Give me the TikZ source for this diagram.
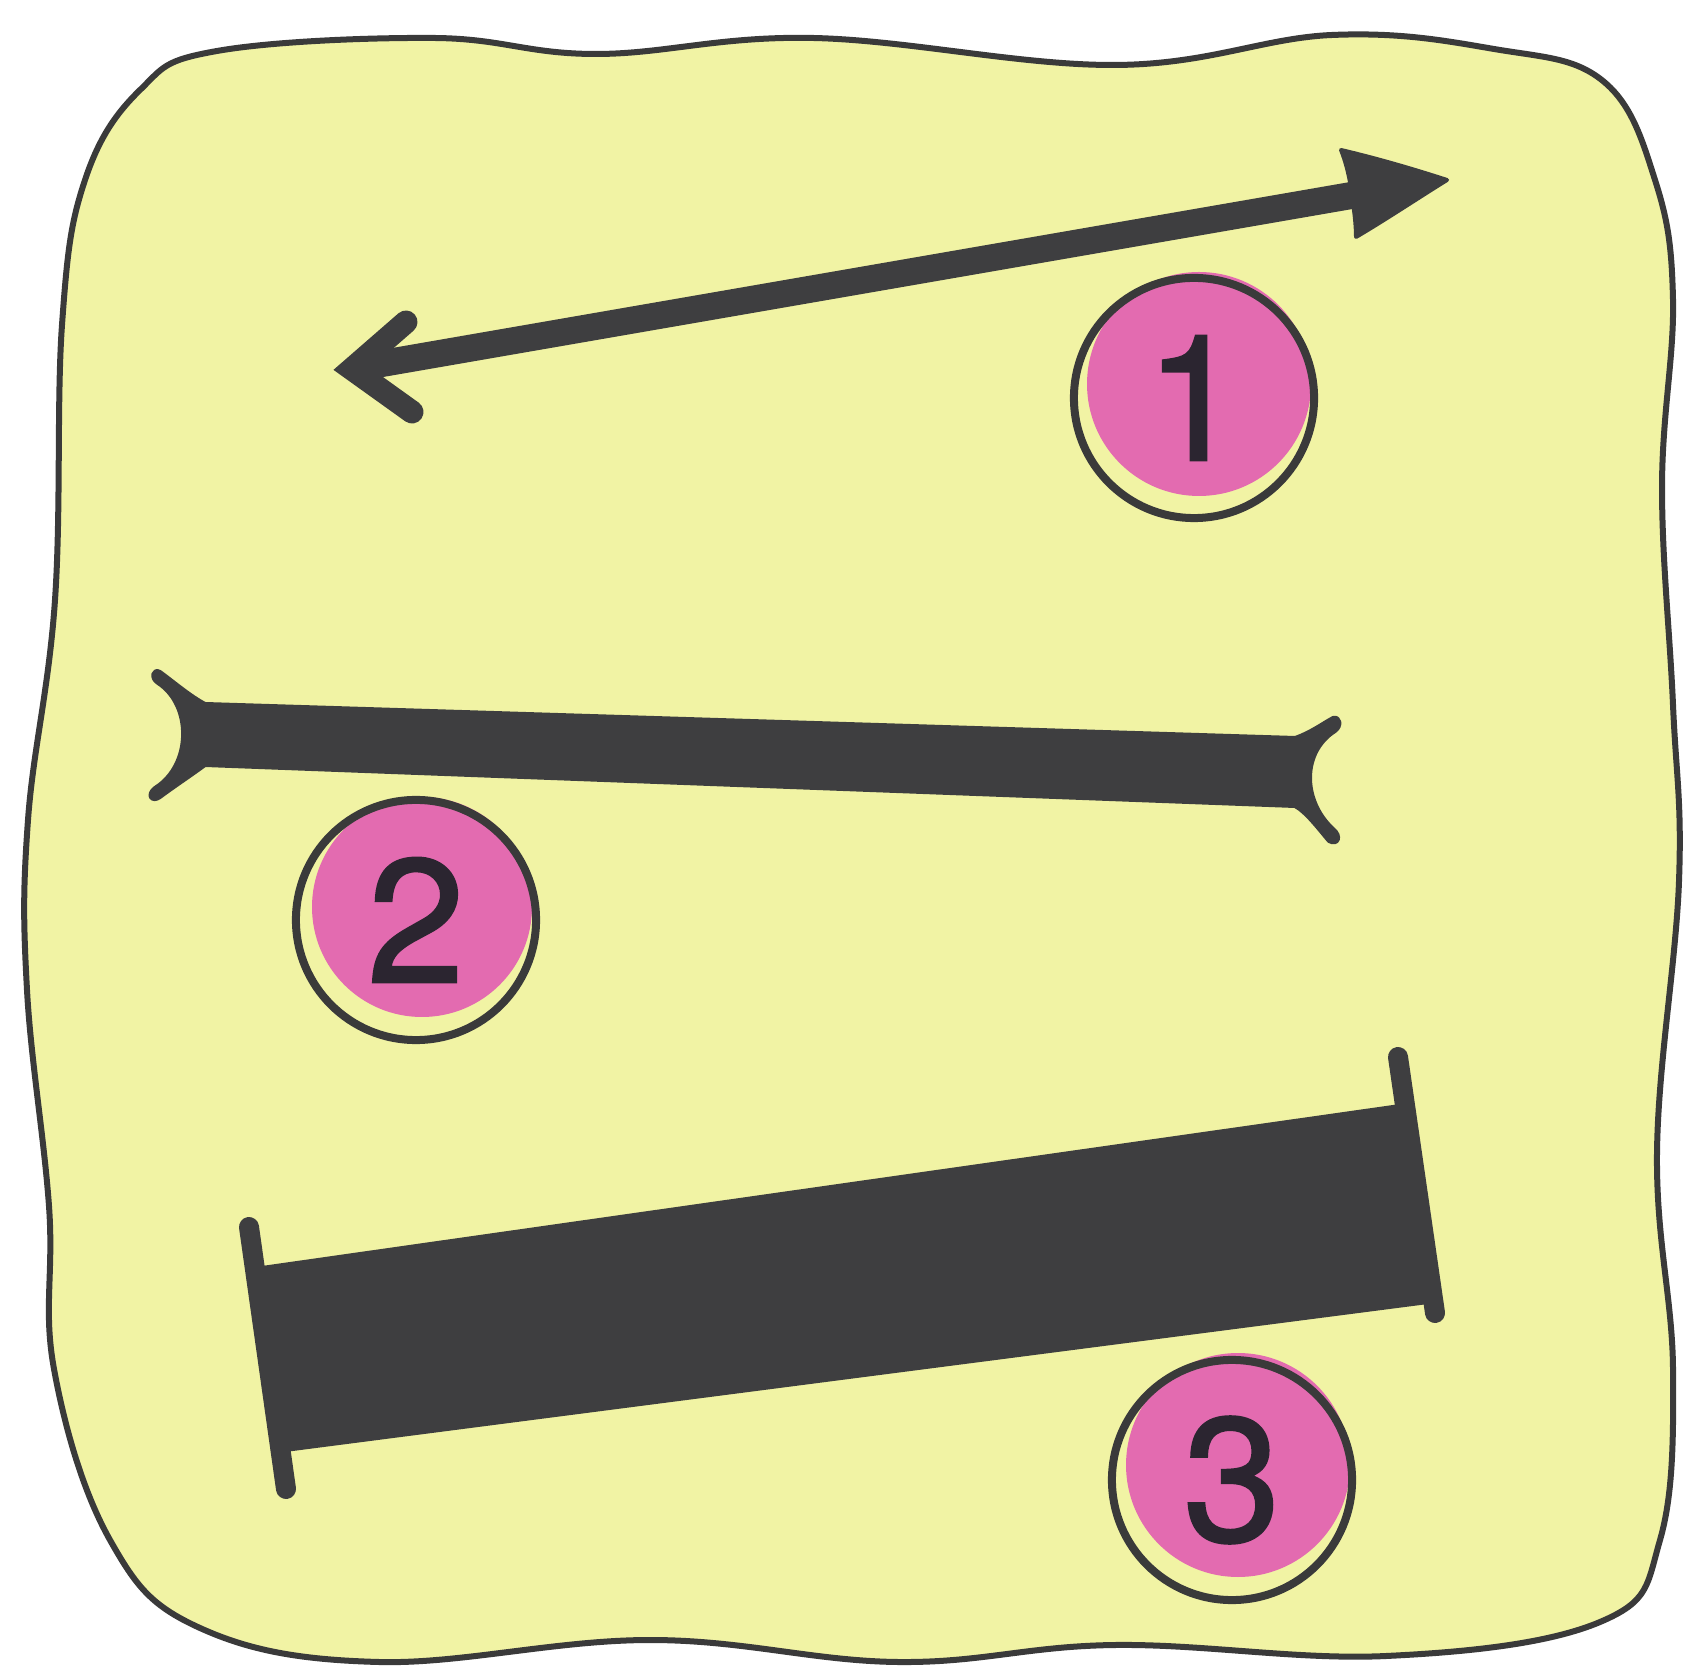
\documentclass[tikz,border=0pt]{standalone}
\usepackage{fontspec}
\setmainfont{TeX Gyre Heros}
\newfontfamily\digitfont[FakeBold=1.3]{TeX Gyre Heros}
\definecolor{paper}{HTML}{F1F3A4}
\definecolor{ink}{HTML}{3A3A3A}
\definecolor{barink}{HTML}{3E3E40}
\definecolor{pink}{HTML}{E36BB0}
\definecolor{digit}{HTML}{2B2530}
\tikzset{
  outline/.style={draw=ink, line width=0.06cm, fill=paper},
  numcirc/.style={circle, draw=ink, line width=0.08cm, minimum size=2.4cm, inner sep=0pt,
    text=digit, font=\digitfont\fontsize{50}{60}\selectfont},
  pinkdot/.style={fill=pink},
  shaft/.style={draw=barink, line width=0.27cm, line cap=butt},
  barb/.style={draw=barink, line width=0.23cm, line cap=round, line join=miter},
  solid ink/.style={fill=barink, draw=barink, line width=0.04cm, line join=round},
  endcap/.style={draw=barink, line width=0.2cm, line cap=round}
}
\begin{document}
\begin{tikzpicture}[x=0.01cm, y=-0.01cm]
\useasboundingbox (0,0) rectangle (1694,1677);
\fill[white] (0,0) rectangle (1694,1677);
% wavy background
\path[outline] plot[smooth cycle, tension=0.65] coordinates {
 (217,51) (434,38) (596,54) (813,38) (1115,65) (1332,35) (1494,49) (1603,81)
 (1655,180) (1673,300) (1662,488) (1673,705) (1679,881) (1657,1152) (1673,1369)
 (1660,1540) (1600,1622) (1386,1656) (1115,1645) (898,1662) (650,1640) (379,1662)
 (200,1628) (110,1540) (54,1369) (49,1206) (27,990) (28,820) (55,600) (62,325) (85,180) (140,90)};

% arrow 1
\coordinate (a1l) at (356,368);
\coordinate (a1r) at (1360,194);
\draw[shaft] (a1l) -- (a1r);
\draw[barb] (406,322) -- (352,369) -- (412,412);
\coordinate (a1tip) at (1447,180);
\path[solid ink] (a1tip) .. controls (1410,168) and (1375,158) .. (1341,150)
  .. controls (1347,165) and (1350,180) .. (1352,195)
  .. controls (1354,210) and (1356,224) .. (1356,237)
  .. controls (1385,220) and (1418,198) .. (a1tip) -- cycle;

% bar 2 with fork ends
\coordinate (b2l) at (190,735);
\coordinate (b2r) at (1307,772);
\path[solid ink] (160,672) .. controls (175,683) and (190,696) .. (205,704)
  -- (1295,738) .. controls (1310,733) and (1322,724) .. (1333,718)
  .. controls (1340,716) and (1342,726) .. (1335,731)
  .. controls (1302,752) and (1302,800) .. (1333,829)
  .. controls (1342,836) and (1338,846) .. (1329,841)
  .. controls (1318,828) and (1306,812) .. (1295,806)
  -- (205,765) .. controls (190,776) and (172,788) .. (160,797)
  .. controls (152,803) and (146,795) .. (155,788)
  .. controls (192,765) and (192,705) .. (158,683)
  .. controls (150,678) and (153,668) .. (160,672) -- cycle;

% bar 3
\path[solid ink] (262,1268) -- (1400,1106) -- (1428,1302) -- (285,1450) -- cycle;
\draw[endcap] (249,1227) -- (286,1489);
\draw[endcap] (1398,1057) -- (1435,1313);

% numbered circles
\fill[pinkdot] (1199,384) circle[radius=112];
\node[numcirc] (n1) at (1194,398) {1};
\fill[pinkdot] (422,907) circle[radius=110];
\node[numcirc] (n2) at (416,920) {2};
\fill[pinkdot] (1238,1465) circle[radius=112];
\node[numcirc] (n3) at (1232,1480) {3};
\end{tikzpicture}
\end{document}
